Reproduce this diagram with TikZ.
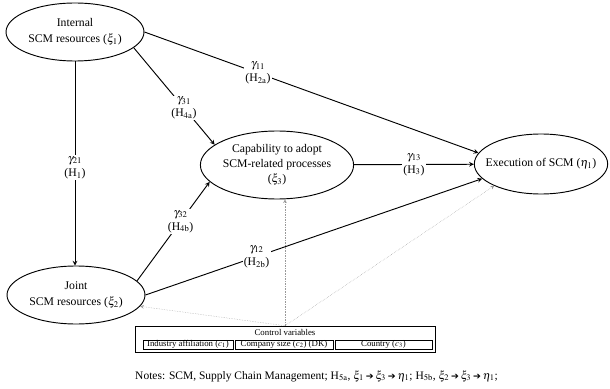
\documentclass[tikz,border=0pt]{standalone}
\usepackage{amsmath}
\usepackage{mathptmx}
\usepackage{fontspec}
\setmainfont{Liberation Serif}
\newfontfamily\arrowfont{DejaVu Sans}
\usepackage{tikz}
\usetikzlibrary{shapes,% ellipse nodes
arrows}
\tikzset{every node/.style={font=\normalsize},
  construct/.style={ellipse,draw,thick,inner sep=0pt,align=center},
  pathlabel/.style={fill=white,inner sep=1pt,align=center,font=\normalsize},
  ctrlbox/.style={draw,inner sep=0.3pt,font=\fontsize{7.5}{8}\selectfont}}
\newcommand{\heavyto}{\,{\arrowfont\fontsize{8}{8}\selectfont ➔}\,}

\begin{document}
\begin{tikzpicture}[x=0.3mm,y=-0.3mm,>=stealth]
\useasboundingbox (0,0) rectangle (610,389);
% latent constructs
\node[construct,minimum width=41.4mm,minimum height=17.4mm] (Intern) at (75,32)
  {Internal\\[2pt]SCM resources ($\xi_1$)};
\node[construct,minimum width=41.4mm,minimum height=17.4mm] (Joint) at (76,295)
  {Joint\\[2pt]SCM resources ($\xi_2$)};
\node[construct,minimum width=42mm,minimum height=20.4mm] (Capab) at (277,165)
  {Capability to adopt\\[1pt]SCM-related processes\\[1pt]($\xi_3$)};
\node[construct,minimum width=40mm,minimum height=18mm,inner xsep=-3mm] (Exec) at (541,164)
  {Execution of SCM ($\eta_1$)};
% control variables
\node[draw,minimum width=90mm,minimum height=7.8mm] (Ctrl) at (285,339) {};
\node[font=\fontsize{7.5}{8}\selectfont,inner sep=0pt] (CtrlTitle) at (285,332.5) {Control variables};
\node[ctrlbox,minimum width=27mm,minimum height=2.7mm] (CtrlInd) at (188,344.5) {Industry affiliation ($c_1$)};
\node[ctrlbox,minimum width=29.4mm,minimum height=2.7mm] (CtrlSize) at (284,344.5) {Company size ($c_2$) (DK)};
\node[ctrlbox,minimum width=29.1mm,minimum height=2.7mm] (CtrlCountry) at (383.5,344.5) {Country ($c_3$)};
\begin{scope}[->,thick]
\draw (Intern.south) -- (Intern.south |- Joint.north)
  node[pathlabel,pos=0.52] (LabA) {$\gamma_{21}$\\(H$_{\mathrm{1}}$)};
\draw (Intern.east) -- (Exec.170)
  node[pathlabel,pos=0.34] (LabB) {$\gamma_{11}$\\(H$_{\mathrm{2a}}$)};
\draw (Intern.-15) -- (Capab.162)
  node[pathlabel,pos=0.62] (LabC) {$\gamma_{31}$\\(H$_{\mathrm{4a}}$)};
\draw (Joint.13) -- (Capab.194)
  node[pathlabel,pos=0.6] (LabD) {$\gamma_{32}$\\(H$_{\mathrm{4b}}$)};
\draw (Joint.east) -- (Exec.194)
  node[pathlabel,pos=0.33] (LabE) {$\gamma_{12}$\\(H$_{\mathrm{2b}}$)};
\draw (Capab) -- (Exec)
  node[pathlabel,pos=0.5] (LabF) {$\gamma_{13}$\\(H$_{\mathrm{3}}$)};
\end{scope}
\begin{scope}[->,densely dotted,gray!80]
\draw (Ctrl.north) -- (Joint.-10);
\draw (Ctrl.north) -- (Ctrl.north |- Capab.south);
\draw (Ctrl.north) -- (Exec.205);
\end{scope}
\node[anchor=west,inner sep=0pt,font=\fontsize{9.8}{11}\selectfont] (Notes) at (135,376)
  {Notes: SCM, Supply Chain Management; H$_{\mathrm{5a}}$, $\xi_1$\heavyto$\xi_3$\heavyto$\eta_1$; H$_{\mathrm{5b}}$, $\xi_2$\heavyto$\xi_3$\heavyto$\eta_1$;};
\end{tikzpicture}
\end{document}
